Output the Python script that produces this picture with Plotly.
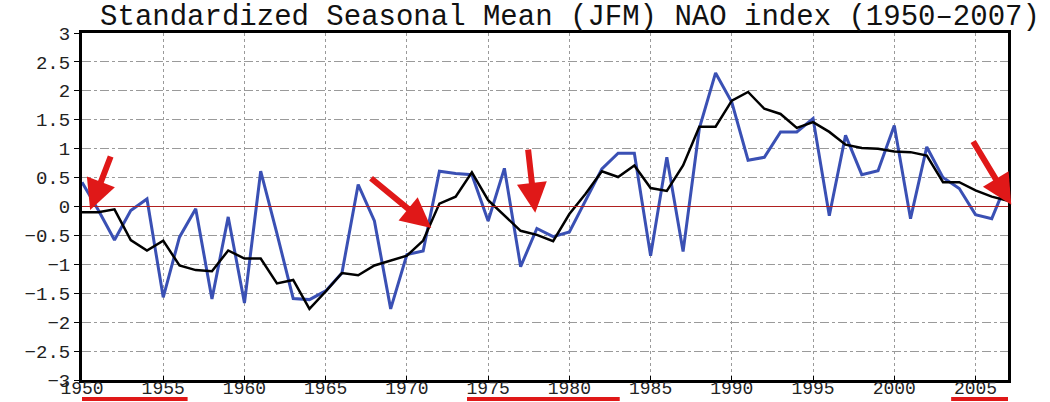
import plotly.graph_objects as go

years = list(range(1950, 2008))

# yearly standardized JFM NAO index (blue)
nao_jfm = [0.42, -0.06, -0.58, -0.07, 0.13, -1.57, -0.53, -0.04, -1.60, -0.18,
           -1.67, 0.61, -0.47, -1.59, -1.61, -1.46, -1.15, 0.38, -0.25, -1.77,
           -0.83, -0.77, 0.61, 0.57, 0.55, -0.25, 0.66, -1.04, -0.38, -0.52,
           -0.44, 0.10, 0.65, 0.92, 0.92, -0.85, 0.85, -0.78, 1.35, 2.31,
           1.80, 0.80, 0.85, 1.29, 1.29, 1.52, -0.16, 1.23, 0.55, 0.62,
           1.40, -0.21, 1.03, 0.50, 0.31, -0.14, -0.21, 0.47]

# smoothed index (black)
nao_smooth = [-0.10, -0.10, -0.05, -0.58, -0.76, -0.59, -1.02, -1.10, -1.12, -0.76,
              -0.90, -0.90, -1.33, -1.27, -1.77, -1.47, -1.15, -1.19, -1.02, -0.93,
              -0.85, -0.59, 0.05, 0.17, 0.59, 0.11, -0.16, -0.42, -0.49, -0.60,
              -0.13, 0.22, 0.61, 0.51, 0.71, 0.32, 0.27, 0.71, 1.38, 1.38,
              1.83, 1.98, 1.69, 1.60, 1.36, 1.46, 1.29, 1.07, 1.01, 1.00,
              0.95, 0.94, 0.88, 0.42, 0.42, 0.28, 0.17, 0.10]

x_ticks = list(range(1950, 2010, 5))
y_ticks = [v / 2 for v in range(-6, 7)]

title_text = "Standardized Seasonal Mean (JFM) NAO index (1950\u20132007)"

FONT = "Liberation Mono"
RED = "#e01818"

fig = go.Figure()
fig.add_trace(go.Scatter(x=years, y=nao_jfm, mode="lines",
                         line=dict(color="#3a50b4", width=3), showlegend=False))
fig.add_trace(go.Scatter(x=years, y=nao_smooth, mode="lines",
                         line=dict(color="#000000", width=2.5), showlegend=False))

# zero reference line
fig.add_shape(type="line", xref="paper", x0=0, x1=1, yref="y", y0=0, y1=0,
              line=dict(color="#b02020", width=1))

# hand-drawn red arrows (annotations)
arrows = [((1951.8, 0.89), (1950.5, -0.06)),
          ((1967.7, 0.51), (1971.5, -0.37)),
          ((1977.45, 1.01), (1977.9, -0.11)),
          ((2004.8, 1.15), (2007.2, 0.03))]
for (tx, ty), (hx, hy) in arrows:
    fig.add_annotation(x=hx, y=hy, ax=tx, ay=ty, xref="x", yref="y",
                       axref="x", ayref="y", text="", showarrow=True,
                       arrowhead=2, arrowsize=1.0, arrowwidth=6,
                       arrowcolor=RED)

# red underlines below the year labels
for x0, x1 in [(1948.0, 1956.5), (1973.7, 1983.1), (2003.5, 2009.8)]:
    fig.add_shape(type="line", xref="x", x0=x0, x1=x1, yref="paper",
                  y0=-0.055, y1=-0.055, line=dict(color=RED, width=4))

fig.update_layout(
    width=1050, height=402, autosize=False,
    margin=dict(l=82, r=42, t=33, b=22, autoexpand=False),
    paper_bgcolor="white", plot_bgcolor="white",
    title=dict(text=title_text, x=570 / 1050, xanchor="center",
               y=1 - 15 / 402, yanchor="middle", yref="container",
               font=dict(family=FONT, size=29, color="#111")),
    font=dict(family=FONT, size=19, color="#222"),
)
fig.update_xaxes(range=[1950, 2007], tickvals=x_ticks, showgrid=True,
                 gridcolor="#9a9a9a", griddash="dot", gridwidth=1,
                 showline=True, linecolor="black", linewidth=2.5, mirror=True,
                 ticks="inside", ticklen=4, tickcolor="black", automargin=False,
                 ticklabelstandoff=-10,
                 zeroline=False, tickfont=dict(family=FONT, size=18))
fig.update_yaxes(range=[-3, 3], tickvals=y_ticks, showgrid=True,
                 gridcolor="#9a9a9a", griddash="dashdot", gridwidth=1,
                 showline=True, linecolor="black", linewidth=3, mirror=True,
                 ticks="outside", ticklen=5, tickcolor="black", automargin=False,
                 zeroline=False, tickfont=dict(family=FONT, size=19))

fig.write_html("out.html", config={"displayModeBar": False},
               post_script="document.body.style.margin='0';")
